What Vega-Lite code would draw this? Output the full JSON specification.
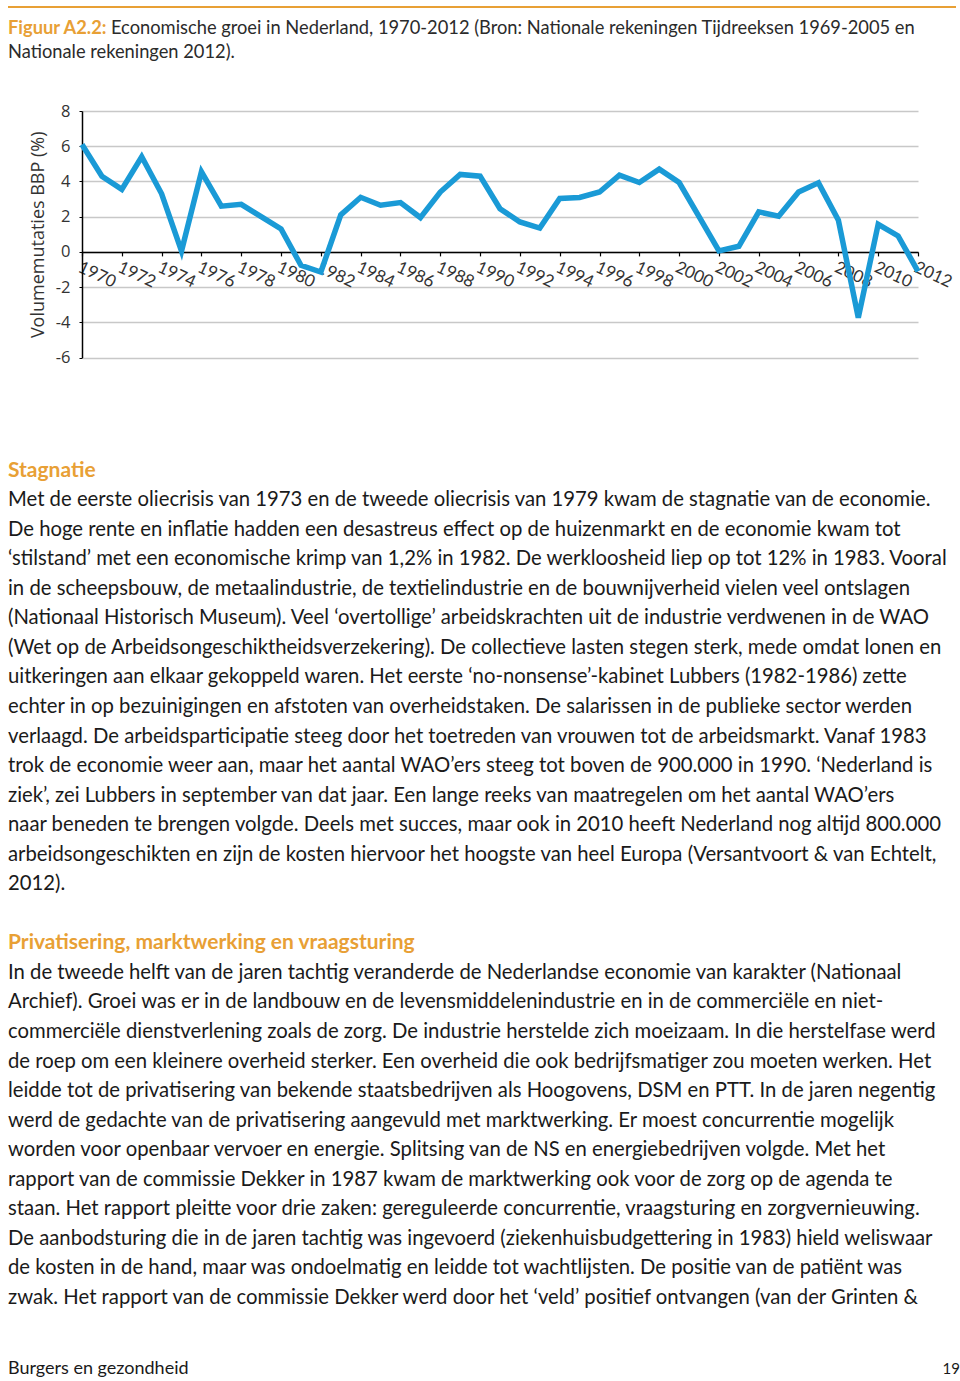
{
  "$schema": "https://vega.github.io/schema/vega-lite/v6.json",
  "background": "white",
  "padding": {"left": 7, "top": 0, "right": 5, "bottom": 0},
  "spacing": 0,
  "config": {"view": {"stroke": null}, "font": "Lato"},
  "vconcat": [
    {
      "width": 948,
      "height": 103,
      "data": {"values": [
        {"line": 0.08, "col": 0, "end": 1, "kind": "lijn", "text": ""},
        {"line": 1, "col": 0, "end": 1, "kind": "label", "text": "Figuur A2.2:"},
        {"line": 1, "col": 0, "end": 1, "kind": "rest", "text": "Economische groei in Nederland, 1970-2012 (Bron: Nationale rekeningen Tijdreeksen 1969-2005 en"},
        {"line": 2, "col": 0, "end": 1, "kind": "tekst", "text": "Nationale rekeningen 2012)."}
      ]},
      "encoding": {
        "x": {"field": "col", "type": "quantitative", "scale": {"domain": [0, 1], "nice": false, "zero": false}, "axis": null},
        "y": {"field": "line", "type": "quantitative", "scale": {"domain": [-0.2083, 4.0834], "nice": false, "zero": false, "reverse": true}, "axis": null}
      },
      "layer": [
        {
          "transform": [{"filter": "datum.kind === 'lijn'"}],
          "mark": {"type": "rule", "color": "#e8a035", "strokeWidth": 2},
          "encoding": {"x2": {"field": "end"}}
        },
        {
          "transform": [{"filter": "datum.kind === 'label'"}],
          "mark": {"type": "text", "align": "left", "baseline": "middle", "fontSize": 18.3, "fontWeight": "bold", "font": "Lato", "color": "#e8a035"},
          "encoding": {"text": {"field": "text"}}
        },
        {
          "transform": [{"filter": "datum.kind === 'rest'"}],
          "mark": {"type": "text", "align": "left", "baseline": "middle", "fontSize": 18.3, "font": "Lato", "color": "#2b2b2b", "dx": 103},
          "encoding": {"text": {"field": "text"}}
        },
        {
          "transform": [{"filter": "datum.kind === 'tekst'"}],
          "mark": {"type": "text", "align": "left", "baseline": "middle", "fontSize": 18.3, "font": "Lato", "color": "#2b2b2b"},
          "encoding": {"text": {"field": "text"}}
        }
      ]
    },
    {
      "spacing": 20,
      "hconcat": [
        {
          "width": 1,
          "height": 1,
          "data": {"values": [{"leeg": ""}]},
          "mark": {"type": "text"},
          "encoding": {"text": {"field": "leeg"}}
        },
        {
          "width": 836,
          "height": 246.6,
          "data": {"values": [
            {"jaar": 1970, "groei": 6.1}, {"jaar": 1971, "groei": 4.3}, {"jaar": 1972, "groei": 3.55},
            {"jaar": 1973, "groei": 5.4}, {"jaar": 1974, "groei": 3.3}, {"jaar": 1975, "groei": 0.05},
            {"jaar": 1976, "groei": 4.55}, {"jaar": 1977, "groei": 2.6}, {"jaar": 1978, "groei": 2.7},
            {"jaar": 1979, "groei": 2.0}, {"jaar": 1980, "groei": 1.3}, {"jaar": 1981, "groei": -0.76},
            {"jaar": 1982, "groei": -1.14}, {"jaar": 1983, "groei": 2.1}, {"jaar": 1984, "groei": 3.1},
            {"jaar": 1985, "groei": 2.65}, {"jaar": 1986, "groei": 2.8}, {"jaar": 1987, "groei": 1.95},
            {"jaar": 1988, "groei": 3.4}, {"jaar": 1989, "groei": 4.4}, {"jaar": 1990, "groei": 4.3},
            {"jaar": 1991, "groei": 2.45}, {"jaar": 1992, "groei": 1.7}, {"jaar": 1993, "groei": 1.35},
            {"jaar": 1994, "groei": 3.03}, {"jaar": 1995, "groei": 3.09}, {"jaar": 1996, "groei": 3.4},
            {"jaar": 1997, "groei": 4.36}, {"jaar": 1998, "groei": 3.94}, {"jaar": 1999, "groei": 4.7},
            {"jaar": 2000, "groei": 3.94}, {"jaar": 2001, "groei": 2.0}, {"jaar": 2002, "groei": 0.06},
            {"jaar": 2003, "groei": 0.32}, {"jaar": 2004, "groei": 2.27}, {"jaar": 2005, "groei": 2.03},
            {"jaar": 2006, "groei": 3.4}, {"jaar": 2007, "groei": 3.92}, {"jaar": 2008, "groei": 1.8},
            {"jaar": 2009, "groei": -3.73}, {"jaar": 2010, "groei": 1.57}, {"jaar": 2011, "groei": 0.91},
            {"jaar": 2012, "groei": -1.1}
          ]},
          "mark": {"type": "line", "color": "#1a9ad6", "strokeWidth": 5.5},
          "encoding": {
            "x": {
              "field": "jaar", "type": "quantitative",
              "scale": {"domain": [1970, 2012], "nice": false, "zero": false},
              "axis": {
                "values": [1970, 1972, 1974, 1976, 1978, 1980, 1982, 1984, 1986, 1988, 1990, 1992, 1994, 1996, 1998, 2000, 2002, 2004, 2006, 2008, 2010, 2012],
                "format": "d", "title": null, "grid": false,
                "offset": -105.7,
                "labelAngle": 25, "labelAlign": "left", "labelBaseline": "top",
                "labelPadding": 3, "labelFont": "Lato", "labelFontSize": 17, "labelColor": "#333333",
                "labelOverlap": false, "labelFlush": false, "labelBound": false,
                "tickSize": 4, "tickColor": "#000000", "tickWidth": 1.2,
                "domainColor": "#000000", "domainWidth": 1.5
              }
            },
            "y": {
              "field": "groei", "type": "quantitative",
              "scale": {"domain": [-6, 8], "nice": false, "zero": false},
              "axis": {
                "values": [-6, -4, -2, 0, 2, 4, 6, 8],
                "labelExpr": "toString(datum.value)",
                "title": "Volumemutaties BBP  (%)",
                "titleFont": "Open Sans", "titleFontSize": 18, "titleFontWeight": "normal", "titleColor": "#333333", "titlePadding": 8,
                "labelFont": "Open Sans", "labelFontSize": 16.5, "labelColor": "#333333", "labelPadding": 9,
                "tickSize": 3, "tickColor": "#000000",
                "domainColor": "#000000", "domainWidth": 1.5,
                "grid": true, "gridColor": "#c8c8c8", "gridWidth": 1.3
              }
            }
          }
        }
      ]
    },
    {
      "width": 952,
      "height": 1016.5,
      "data": {"values": [
        {"row": 0, "col": 0, "kind": "kop", "text": "Stagnatie"},
        {"row": 1, "col": 0, "kind": "tekst", "text": "Met de eerste oliecrisis van 1973 en de tweede oliecrisis van 1979 kwam de stagnatie van de economie."},
        {"row": 2, "col": 0, "kind": "tekst", "text": "De hoge rente en inflatie hadden een desastreus effect op de huizenmarkt en de economie kwam tot"},
        {"row": 3, "col": 0, "kind": "tekst", "text": "‘stilstand’ met een economische krimp van 1,2% in 1982. De werkloosheid liep op tot 12% in 1983. Vooral"},
        {"row": 4, "col": 0, "kind": "tekst", "text": "in de scheepsbouw, de metaalindustrie, de textielindustrie en de bouwnijverheid vielen veel ontslagen"},
        {"row": 5, "col": 0, "kind": "tekst", "text": "(Nationaal Historisch Museum). Veel ‘overtollige’ arbeidskrachten uit de industrie verdwenen in de WAO"},
        {"row": 6, "col": 0, "kind": "tekst", "text": "(Wet op de Arbeidsongeschiktheidsverzekering). De collectieve lasten stegen sterk, mede omdat lonen en"},
        {"row": 7, "col": 0, "kind": "tekst", "text": "uitkeringen aan elkaar gekoppeld waren. Het eerste ‘no-nonsense’-kabinet Lubbers (1982-1986) zette"},
        {"row": 8, "col": 0, "kind": "tekst", "text": "echter in op bezuinigingen en afstoten van overheidstaken. De salarissen in de publieke sector werden"},
        {"row": 9, "col": 0, "kind": "tekst", "text": "verlaagd. De arbeidsparticipatie steeg door het toetreden van vrouwen tot de arbeidsmarkt. Vanaf 1983"},
        {"row": 10, "col": 0, "kind": "tekst", "text": "trok de economie weer aan, maar het aantal WAO’ers steeg tot boven de 900.000 in 1990. ‘Nederland is"},
        {"row": 11, "col": 0, "kind": "tekst", "text": "ziek’, zei Lubbers in september van dat jaar. Een lange reeks van maatregelen om het aantal WAO’ers"},
        {"row": 12, "col": 0, "kind": "tekst", "text": "naar beneden te brengen volgde. Deels met succes, maar ook in 2010 heeft Nederland nog altijd 800.000"},
        {"row": 13, "col": 0, "kind": "tekst", "text": "arbeidsongeschikten en zijn de kosten hiervoor het hoogste van heel Europa (Versantvoort & van Echtelt,"},
        {"row": 14, "col": 0, "kind": "tekst", "text": "2012)."},
        {"row": 16, "col": 0, "kind": "kop", "text": "Privatisering, marktwerking en vraagsturing"},
        {"row": 17, "col": 0, "kind": "tekst", "text": "In de tweede helft van de jaren tachtig veranderde de Nederlandse economie van karakter (Nationaal"},
        {"row": 18, "col": 0, "kind": "tekst", "text": "Archief). Groei was er in de landbouw en de levensmiddelenindustrie en in de commerciële en niet-"},
        {"row": 19, "col": 0, "kind": "tekst", "text": "commerciële dienstverlening zoals de zorg. De industrie herstelde zich moeizaam. In die herstelfase werd"},
        {"row": 20, "col": 0, "kind": "tekst", "text": "de roep om een kleinere overheid sterker. Een overheid die ook bedrijfsmatiger zou moeten werken. Het"},
        {"row": 21, "col": 0, "kind": "tekst", "text": "leidde tot de privatisering van bekende staatsbedrijven als Hoogovens, DSM en PTT. In de jaren negentig"},
        {"row": 22, "col": 0, "kind": "tekst", "text": "werd de gedachte van de privatisering aangevuld met marktwerking. Er moest concurrentie mogelijk"},
        {"row": 23, "col": 0, "kind": "tekst", "text": "worden voor openbaar vervoer en energie. Splitsing van de NS en energiebedrijven volgde. Met het"},
        {"row": 24, "col": 0, "kind": "tekst", "text": "rapport van de commissie Dekker in 1987 kwam de marktwerking ook voor de zorg op de agenda te"},
        {"row": 25, "col": 0, "kind": "tekst", "text": "staan. Het rapport pleitte voor drie zaken: gereguleerde concurrentie, vraagsturing en zorgvernieuwing."},
        {"row": 26, "col": 0, "kind": "tekst", "text": "De aanbodsturing die in de jaren tachtig was ingevoerd (ziekenhuisbudgettering in 1983) hield weliswaar"},
        {"row": 27, "col": 0, "kind": "tekst", "text": "de kosten in de hand, maar was ondoelmatig en leidde tot wachtlijsten. De positie van de patiënt was"},
        {"row": 28, "col": 0, "kind": "tekst", "text": "zwak. Het rapport van de commissie Dekker werd door het ‘veld’ positief ontvangen (van der Grinten &"},
        {"row": 30.4, "col": 0, "kind": "voet", "text": "Burgers en gezondheid"},
        {"row": 30.4, "col": 1, "kind": "pagina", "text": "19"}
      ]},
      "encoding": {
        "x": {"field": "col", "type": "quantitative", "scale": {"domain": [0, 1], "nice": false, "zero": false}, "axis": null},
        "y": {"field": "row", "type": "quantitative", "scale": {"domain": [-3.51, 30.9], "nice": false, "zero": false, "reverse": true}, "axis": null},
        "text": {"field": "text"}
      },
      "layer": [
        {
          "transform": [{"filter": "datum.kind === 'kop'"}],
          "mark": {"type": "text", "align": "left", "baseline": "middle", "font": "Lato", "fontSize": 21, "fontWeight": "bold", "color": "#e8a035"}
        },
        {
          "transform": [{"filter": "datum.kind === 'tekst'"}],
          "mark": {"type": "text", "align": "left", "baseline": "middle", "font": "Lato", "fontSize": 20.3, "color": "#1a1a1a"}
        },
        {
          "transform": [{"filter": "datum.kind === 'voet'"}],
          "mark": {"type": "text", "align": "left", "baseline": "middle", "font": "Lato", "fontSize": 18, "color": "#1a1a1a"}
        },
        {
          "transform": [{"filter": "datum.kind === 'pagina'"}],
          "mark": {"type": "text", "align": "right", "baseline": "middle", "font": "Lato", "fontSize": 15, "color": "#1a1a1a"}
        }
      ]
    }
  ]
}
